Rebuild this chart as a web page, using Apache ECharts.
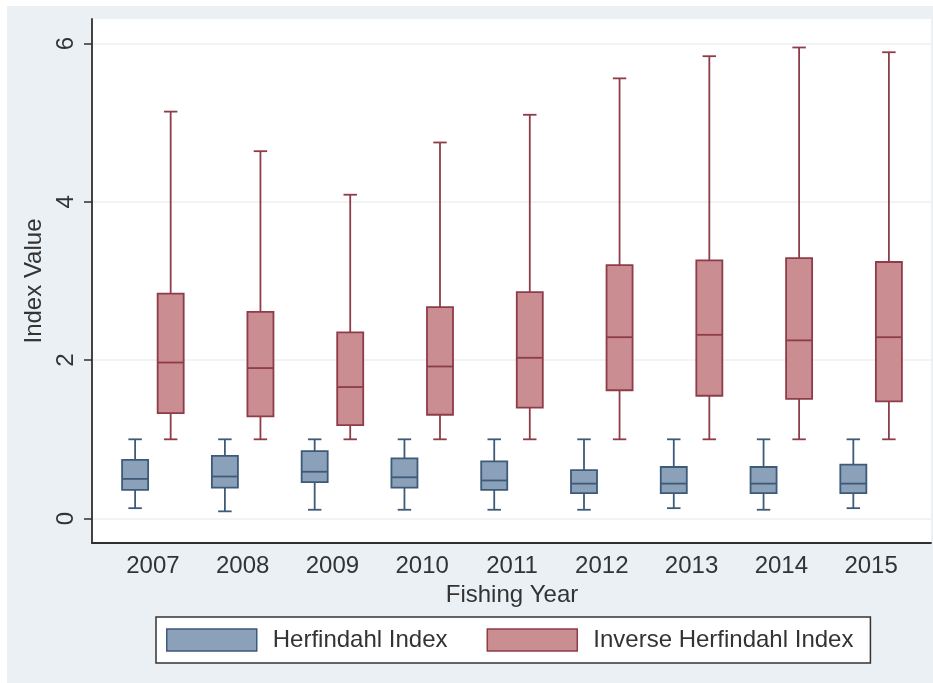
<!DOCTYPE html>
<html>
<head>
<meta charset="utf-8">
<script src="https://cdn.jsdelivr.net/npm/echarts@6/dist/echarts.min.js"></script>
<style>
  html, body { margin: 0; padding: 0; background: #eaf0f4; overflow: hidden; }
  #chart {
    width: 933px; height: 683px;
    background:
      linear-gradient(#ffffff, #ffffff) top left / 100% 6px no-repeat,
      linear-gradient(#ffffff, #ffffff) top left / 7px 100% no-repeat,
      #eaf0f4;
  }
</style>
</head>
<body>
<div id="chart"></div>
<script>
// ---- data ----
const years = ['2007', '2008', '2009', '2010', '2011', '2012', '2013', '2014', '2015'];
const yTicks = [0, 2, 4, 6];
// each row: [lower whisker, Q1, median, Q3, upper whisker]
const herfindahl = [
  [0.13, 0.36, 0.50, 0.74, 1.00],
  [0.09, 0.39, 0.53, 0.79, 1.00],
  [0.11, 0.46, 0.59, 0.85, 1.00],
  [0.11, 0.39, 0.52, 0.76, 1.00],
  [0.11, 0.36, 0.48, 0.72, 1.00],
  [0.11, 0.32, 0.44, 0.61, 1.00],
  [0.13, 0.32, 0.44, 0.65, 1.00],
  [0.11, 0.32, 0.44, 0.65, 1.00],
  [0.13, 0.32, 0.44, 0.68, 1.00]
];
const inverseHerfindahl = [
  [1.00, 1.33, 1.97, 2.84, 5.14],
  [1.00, 1.29, 1.90, 2.61, 4.64],
  [1.00, 1.18, 1.66, 2.35, 4.09],
  [1.00, 1.31, 1.92, 2.67, 4.75],
  [1.00, 1.40, 2.03, 2.86, 5.10],
  [1.00, 1.62, 2.29, 3.20, 5.56],
  [1.00, 1.55, 2.32, 3.26, 5.84],
  [1.00, 1.51, 2.25, 3.29, 5.95],
  [1.00, 1.48, 2.29, 3.24, 5.89]
];
const seriesNames = ['Herfindahl Index', 'Inverse Herfindahl Index'];

// ---- styles ----
const FONT = 'Liberation Sans, Arial, sans-serif';
const TXT = '#333333';
const blueFill = '#8ba0b9', blueStroke = '#3d5a79';
const redFill = '#c98d92', redStroke = '#8e3d48';
const Y_MIN = -0.31, Y_MAX = 6.31;

function toRows(arr) { return arr.map((r, i) => [i].concat(r)); }

function makeRender(offsetFrac, fill, stroke) {
  return function (params, api) {
    const i = api.value(0);
    const band = api.size([1, 0])[0];
    const cx = api.coord([i, 0])[0] + offsetFrac * band;
    const yLow = api.coord([i, api.value(1)])[1];
    const yQ1 = api.coord([i, api.value(2)])[1];
    const yMed = api.coord([i, api.value(3)])[1];
    const yQ3 = api.coord([i, api.value(4)])[1];
    const yHigh = api.coord([i, api.value(5)])[1];
    const bw = band * 0.29, cw = band * 0.15;
    const ls = { stroke: stroke, lineWidth: 1.8, fill: null };
    return {
      type: 'group',
      children: [
        { type: 'line', shape: { x1: cx, y1: yHigh, x2: cx, y2: yQ3 }, style: ls },
        { type: 'line', shape: { x1: cx, y1: yQ1, x2: cx, y2: yLow }, style: ls },
        { type: 'line', shape: { x1: cx - cw / 2, y1: yHigh, x2: cx + cw / 2, y2: yHigh }, style: ls },
        { type: 'line', shape: { x1: cx - cw / 2, y1: yLow, x2: cx + cw / 2, y2: yLow }, style: ls },
        { type: 'rect', shape: { x: cx - bw / 2, y: yQ3, width: bw, height: yQ1 - yQ3 },
          style: { fill: fill, stroke: stroke, lineWidth: 1.8 } },
        { type: 'line', shape: { x1: cx - bw / 2, y1: yMed, x2: cx + bw / 2, y2: yMed }, style: ls }
      ]
    };
  };
}

const chart = echarts.init(document.getElementById('chart'), null, { renderer: 'canvas' });
chart.setOption({
  backgroundColor: 'transparent',
  animation: false,
  textStyle: { fontFamily: FONT, color: TXT },
  grid: [
    { left: 92, right: 2, top: 19, bottom: 140, show: true, backgroundColor: '#ffffff', borderWidth: 0 },
    { left: 108, right: 17, top: 19, bottom: 140 }
  ],
  xAxis: [
    { gridIndex: 0, type: 'value', min: 0, max: 1,
      axisLine: { show: true, onZero: false, lineStyle: { color: '#2f2f2f', width: 1.8 } },
      axisTick: { show: false }, axisLabel: { show: false }, splitLine: { show: false } },
    { gridIndex: 1, type: 'category', data: years, boundaryGap: true,
      axisLine: { show: false }, axisTick: { show: false },
      axisLabel: { color: TXT, fontSize: 24, fontFamily: FONT, margin: 11 },
      name: 'Fishing Year', nameLocation: 'middle', nameGap: 34,
      nameTextStyle: { color: TXT, fontSize: 24, fontFamily: FONT } }
  ],
  yAxis: [
    { gridIndex: 0, type: 'value', min: Y_MIN, max: Y_MAX, splitNumber: 3,
      axisLine: { show: true, onZero: false, lineStyle: { color: '#2f2f2f', width: 1.8 } },
      axisTick: { show: true, length: 8, customValues: yTicks, lineStyle: { color: '#2f2f2f', width: 1.5 } },
      axisLabel: { customValues: yTicks, rotate: 90, margin: 14, color: TXT, fontSize: 24, fontFamily: FONT },
      splitLine: { show: true, lineStyle: { color: '#eceff2', width: 1.5 } },
      name: 'Index Value', nameLocation: 'middle', nameGap: 46,
      nameTextStyle: { color: TXT, fontSize: 24, fontFamily: FONT } },
    { gridIndex: 1, type: 'value', min: Y_MIN, max: Y_MAX, show: false, splitLine: { show: false } }
  ],
  legend: {
    left: 156, top: 617,
    orient: 'horizontal',
    backgroundColor: '#ffffff',
    borderColor: '#333333', borderWidth: 1.5, borderRadius: 0,
    padding: [11, 17, 11, 10],
    itemWidth: 90, itemHeight: 22, itemGap: 39,
    selectedMode: false,
    textStyle: { fontSize: 24, fontFamily: FONT, color: TXT, padding: [0, 0, 0, 11] },
    data: [
      { name: seriesNames[0], icon: 'rect', itemStyle: { color: blueFill, borderColor: blueStroke, borderWidth: 1.5 } },
      { name: seriesNames[1], icon: 'rect', itemStyle: { color: redFill, borderColor: redStroke, borderWidth: 1.5 } }
    ]
  },
  series: [
    { name: seriesNames[0], type: 'custom', xAxisIndex: 1, yAxisIndex: 1,
      itemStyle: { color: blueFill, borderColor: blueStroke },
      encode: { x: 0, y: [1, 2, 3, 4, 5] },
      renderItem: makeRender(-0.198, blueFill, blueStroke),
      data: toRows(herfindahl) },
    { name: seriesNames[1], type: 'custom', xAxisIndex: 1, yAxisIndex: 1,
      itemStyle: { color: redFill, borderColor: redStroke },
      encode: { x: 0, y: [1, 2, 3, 4, 5] },
      renderItem: makeRender(0.198, redFill, redStroke),
      data: toRows(inverseHerfindahl) }
  ]
});
</script>
</body>
</html>
